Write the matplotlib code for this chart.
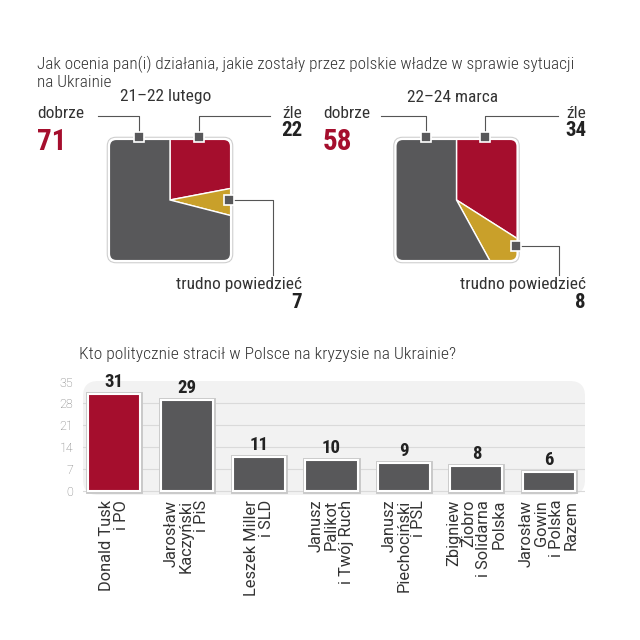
#!/usr/bin/env python3
import matplotlib
matplotlib.use('Agg')
from matplotlib import pyplot as plt
from matplotlib.patches import FancyBboxPatch
from matplotlib import patheffects as pe

plt.rcParams['font.family'] = ['Roboto Condensed', 'Liberation Sans Narrow', 'Roboto', 'DejaVu Sans']

#%% data
question1 = 'Jak ocenia pan(i) działania, jakie zostały przez polskie władze w sprawie sytuacji\nna Ukrainie'
periods = ['21–22 lutego', '22–24 marca']
answers = ['źle', 'trudno powiedzieć', 'dobrze']
feb = [22, 7, 71]
mar = [34, 8, 58]

question2 = 'Kto politycznie stracił w Polsce na kryzysie na Ukrainie?'
politicians = ['Donald Tusk\ni PO', 'Jarosław\nKaczyński\ni PiS', 'Leszek Miller\ni SLD',
               'Janusz\nPalikot\ni Twój Ruch', 'Janusz\nPiechociński\ni PSL',
               'Zbigniew\nZiobro\ni Solidarna\nPolska', 'Jarosław\nGowin\ni Polska\nRazem']
lost = [31, 29, 11, 10, 9, 8, 6]
yticks = [0, 7, 14, 21, 28, 35]

RED = '#a50e2d'
GRAY = '#58585a'
YEL = '#c9a02a'
TXT = '#333333'

W = H = 640
fig = plt.figure(figsize=(6.4, 6.4), dpi=100)


def px_axes(x0, y0, x1, y1, **kw):
    return fig.add_axes([x0 / W, 1 - y1 / H, (x1 - x0) / W, (y1 - y0) / H], **kw)


#%% square pies
def square_pie(box, vals):
    ax = px_axes(*box)
    ax.set_xlim(-1.02, 1.02)
    ax.set_ylim(-1.02, 1.02)
    outer = FancyBboxPatch((-1, -1), 2, 2, boxstyle='round,pad=0,rounding_size=0.14',
                           fc='white', ec='#cfcfcf', lw=0.8, zorder=0)
    ax.add_patch(outer)
    wedges, _ = ax.pie(vals, colors=[RED, YEL, GRAY], startangle=90, counterclock=False,
                       radius=2.2, wedgeprops=dict(edgecolor='white', linewidth=1))
    inner = FancyBboxPatch((-0.955, -0.955), 1.91, 1.91, boxstyle='round,pad=0,rounding_size=0.1',
                           fc='none', ec='none', zorder=0)
    ax.add_patch(inner)
    for w in wedges:
        w.set_clip_on(True)
        w.set_clip_path(inner)
    ax.set_xlim(-1.02, 1.02)
    ax.set_ylim(-1.02, 1.02)
    ax.set_aspect('equal')
    ax.axis('off')
    return ax


square_pie((106, 136, 234, 264), feb)
square_pie((392, 136, 521, 264), mar)

#%% overlay for texts and leaders
ov = fig.add_axes([0, 0, 1, 1], zorder=5)
ov.set_xlim(0, W)
ov.set_ylim(H, 0)
ov.axis('off')

ov.text(37, 73, question1, fontsize=12.4, color=TXT, va='center', linespacing=1.1,
        fontweight='light')

layouts = [
    dict(title_x=166, left=37, right=302,
         dob=(139, 137, 98), zle=(199, 137, 270), tru=(229, 200, 273)),
    dict(title_x=453, left=323, right=586,
         dob=(426, 137, 381), zle=(485, 137, 558), tru=(516, 246, 559)),
]
for lay, per, vals in zip(layouts, periods, [feb, mar]):
    ov.text(lay['title_x'], 97, per, fontsize=12.5, color=TXT, ha='center', va='center')
    # dobrze
    mx, my, ex = lay['dob']
    ov.plot([mx, mx, ex], [my, 116, 116], color='#555555', lw=0.8)
    ov.text(lay['left'], 113, answers[2], fontsize=12.5, color=TXT, va='center')
    ov.text(lay['left'], 142, str(vals[2]), fontsize=21, color=RED, fontweight='bold', va='center')
    # zle
    mx, my, ex = lay['zle']
    ov.plot([mx, mx, ex], [my, 116, 116], color='#555555', lw=0.8)
    ov.text(lay['right'], 113, answers[0], fontsize=12.5, color=TXT, ha='right', va='center')
    ov.text(lay['right'], 131, str(vals[0]), fontsize=15, color='#222222', fontweight='bold',
            ha='right', va='center')
    # trudno
    mx2, my2, ex2 = lay['tru']
    ov.plot([mx2, ex2, ex2], [my2, my2, 275], color='#555555', lw=0.8)
    ov.text(lay['right'], 284, answers[1], fontsize=12.5, color=TXT, ha='right', va='center')
    ov.text(lay['right'], 302, str(vals[1]), fontsize=15, color='#222222', fontweight='bold',
            ha='right', va='center')
    for x, y in [lay['dob'][:2], lay['zle'][:2], lay['tru'][:2]]:
        ov.plot(x, y, marker='s', ms=7, mfc=GRAY, mec='white', mew=1.2)

ov.text(79, 354, question2, fontsize=12.6, color=TXT, va='center', fontweight='light')

#%% bar chart
ax = px_axes(83, 381, 585, 495)
ax.patch.set_visible(False)
bg = FancyBboxPatch((0, 0), 1, 1, boxstyle='round,pad=0,rounding_size=0.03',
                    transform=ax.transAxes, fc='#f2f2f2', ec='none', zorder=0,
                    mutation_aspect=502 / 114)
ax.add_patch(bg)
for t in yticks[:-1]:
    ax.axhline(t, color='#dadada', lw=0.8, zorder=1)

x = list(range(len(lost)))
cols = [RED] + [GRAY] * (len(lost) - 1)
bars = ax.bar(x, lost, width=0.72, color=cols, edgecolor='white', linewidth=1.5, zorder=3)
for b in bars:
    b.set_path_effects([pe.Stroke(linewidth=3.5, foreground='#c8c8c8'), pe.Normal()])
for i, v in enumerate(lost):
    ax.text(i, v + 0.9, str(v), ha='center', va='bottom', fontsize=13.5, fontweight='bold',
            color='#222222', zorder=4)

ax.set_xlim(-0.43, 6.5)
ax.set_ylim(-1.28, 35.16)
ax.set_yticks(yticks)
ax.set_yticklabels([str(t) for t in yticks], fontsize=9, color='#777777',
                   family=['Roboto', 'DejaVu Sans'], fontweight='light')
ax.set_xticks(x)
ax.set_xticklabels(politicians, rotation=90, fontsize=11.8, color=TXT, va='top', ha='center',
                   multialignment='right', linespacing=1.0, family=['Roboto', 'DejaVu Sans'])
ax.tick_params(length=0)
ax.tick_params(axis='y', pad=7)
ax.tick_params(axis='x', pad=3.5)
for s in ax.spines.values():
    s.set_visible(False)

fig.savefig('out.png', dpi=100)
